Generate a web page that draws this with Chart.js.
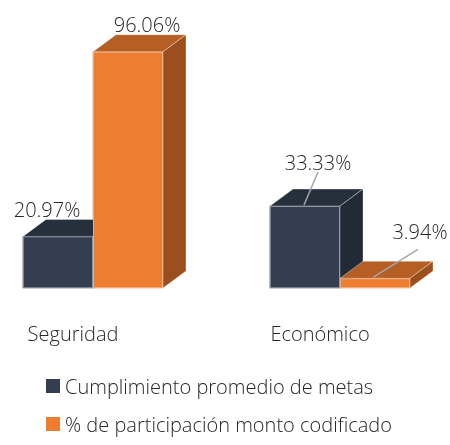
<!DOCTYPE html>
<html>
<head>
<meta charset="utf-8">
<script src="https://cdn.jsdelivr.net/npm/chart.js@4"></script>
<style>
body{margin:0;background:#fff;}
#wrap{position:relative;width:450px;height:445px;}
#box{position:absolute;left:0;top:0;width:450px;height:374px;}
#legend{position:absolute;left:46px;top:367px;font-family:"Open Sans",sans-serif;font-size:20px;font-weight:300;color:#262626;}
.item{height:38px;display:flex;align-items:center;}
.sw{width:14px;height:14px;margin-right:5px;}
</style>
</head>
<body>
<div id="wrap">
<div id="box"><canvas id="chart"></canvas></div>
<div id="legend"></div>
</div>
<script>
let categories = ["Seguridad","Económico"];
let seriesNames = ["Cumplimiento promedio de metas","% de participación monto codificado"];
let metas = [20.97,33.33];
let participacion = [96.06,3.94];

let frontColors = ["#333f50","#ed7d31"];
let topColors = ["#262f3c","#b65f24"];
let sideColors = ["#222a35","#9b4f1e"];

// label offsets from the bar front-top centre, plus optional leader line
let labelPos = [
  [{dx:-11,dy:-19},{dx:13,dy:-36,line:[13,-34,-1,-1]}],
  [{dx:19,dy:-20},{dx:45,dy:-39,line:[43,-29,-2,-1]}]
];

const depthX = 23, depthY = 17;

const bars3d = {
  id:"bars3d",
  afterDatasetsDraw(chart){
    const ctx = chart.ctx;
    ctx.save();
    for(let d=0; d<chart.data.datasets.length; d++){
      const meta = chart.getDatasetMeta(d);
      meta.data.forEach(function(bar){
        const l = bar.x - bar.width/2, r = bar.x + bar.width/2;
        const t = bar.y, b = bar.base;
        ctx.lineWidth = 1;
        ctx.strokeStyle = "rgba(255,255,255,0.35)";
        ctx.fillStyle = frontColors[d];
        ctx.fillRect(l,t,r-l,b-t);
        ctx.strokeRect(l+0.5,t+0.5,r-l-1,b-t-1);
        ctx.fillStyle = topColors[d];
        ctx.beginPath();
        ctx.moveTo(l,t); ctx.lineTo(l+depthX,t-depthY); ctx.lineTo(r+depthX,t-depthY); ctx.lineTo(r,t);
        ctx.closePath(); ctx.fill(); ctx.stroke();
        ctx.fillStyle = sideColors[d];
        ctx.beginPath();
        ctx.moveTo(r,t); ctx.lineTo(r+depthX,t-depthY); ctx.lineTo(r+depthX,b-depthY); ctx.lineTo(r,b);
        ctx.closePath(); ctx.fill(); ctx.stroke();
      });
    }
    ctx.font = "300 20px 'Open Sans'";
    ctx.fillStyle = "#262626";
    ctx.textAlign = "center";
    ctx.textBaseline = "alphabetic";
    for(let d=0; d<chart.data.datasets.length; d++){
      const meta = chart.getDatasetMeta(d);
      const vals = chart.data.datasets[d].data;
      meta.data.forEach(function(bar,i){
        const p = labelPos[d][i];
        if(p.line){
          ctx.strokeStyle = "#a6a6a6";
          ctx.lineWidth = 1.5;
          ctx.beginPath();
          ctx.moveTo(bar.x + p.line[0], bar.y + p.line[1]);
          ctx.lineTo(bar.x + p.line[2], bar.y + p.line[3]);
          ctx.stroke();
        }
        ctx.fillText(vals[i].toFixed(2)+"%", bar.x + p.dx, bar.y + p.dy);
      });
    }
    ctx.restore();
  }
};

let chart = new Chart(document.getElementById("chart"),{
  type:"bar",
  data:{
    labels:categories,
    datasets:[
      {label:seriesNames[0],data:metas,backgroundColor:frontColors[0],barThickness:70,clip:false},
      {label:seriesNames[1],data:participacion,backgroundColor:frontColors[1],barThickness:70,clip:false}
    ]
  },
  options:{
    responsive:true,
    maintainAspectRatio:false,
    animation:false,
    layout:{padding:{left:93,right:110,top:42,bottom:0}},
    plugins:{legend:{display:false},tooltip:{enabled:false}},
    scales:{
      x:{
        offset:false,
        grid:{display:false},
        border:{display:false},
        ticks:{font:{family:"Open Sans",size:20,weight:"300"},color:"#262626",labelOffset:-20,padding:27,maxRotation:0}
      },
      y:{display:false,min:0,max:100}
    }
  },
  plugins:[bars3d]
});

let legend = document.getElementById("legend");
chart.data.datasets.forEach(function(ds){
  let row = document.createElement("div");
  row.className = "item";
  row.innerHTML = '<span class="sw" style="background:'+ds.backgroundColor+'"></span><span>'+ds.label+'</span>';
  legend.appendChild(row);
});
</script>
</body>
</html>
